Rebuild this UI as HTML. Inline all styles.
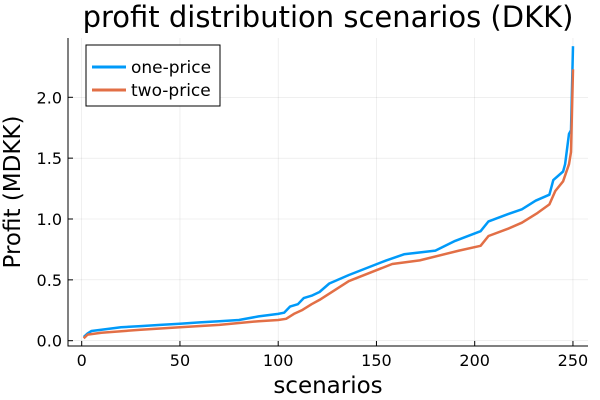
<!DOCTYPE html>
<html><head><meta charset="utf-8"><style>
body{margin:0;background:#fff}
svg{display:block;font-family:"DejaVu Sans","Liberation Sans",sans-serif}
</style></head><body>
<svg id="chart" width="600" height="400" viewBox="0 0 600 400">
<rect width="600" height="400" fill="#fff"/>
<g id="grid"></g><g id="axes"></g><g id="series"></g>
<text x="328" y="27" text-anchor="middle" font-size="29" fill="#000">profit distribution scenarios (DKK)</text>
<text x="328" y="393" text-anchor="middle" font-size="23" fill="#000">scenarios</text>
<text transform="translate(20,192) rotate(-90)" text-anchor="middle" font-size="23" fill="#000">Profit (MDKK)</text>
<g>
<rect x="86" y="45" width="134" height="61" fill="#fff" stroke="#000" stroke-width="1"/>
<line x1="92" y1="67" x2="126" y2="67" stroke="#009af9" stroke-width="3"/>
<text x="131" y="73" font-size="17">one-price</text>
<line x1="92" y1="90" x2="126" y2="90" stroke="#e26f46" stroke-width="3"/>
<text x="131" y="96" font-size="17">two-price</text>
</g>
</svg>
<script>
const xTicks=[0,50,100,150,200,250];
const yTicks=[0,0.5,1.0,1.5,2.0];
const yTickLabels=["0.0","0.5","1.0","1.5","2.0"];
const oneX=[1,3,5,10,20,30,40,50,60,70,80,90,100,103,106,110,113,117,121,126,136,155,164,180,190,203,207,217,224,231,238,240,245,246,248,249,250];
const oneY=[0.03,0.06,0.08,0.09,0.11,0.12,0.13,0.14,0.15,0.16,0.17,0.20,0.22,0.23,0.28,0.30,0.35,0.37,0.40,0.47,0.54,0.66,0.71,0.74,0.82,0.90,0.98,1.04,1.08,1.15,1.20,1.32,1.39,1.45,1.70,1.73,2.42];
const twoX=[1,3,10,30,50,70,90,100,104,108,112,117,121,136,158,172,192,203,207,217,224,232,238,241,245,248,249,250];
const twoY=[0.02,0.05,0.065,0.09,0.11,0.13,0.16,0.17,0.18,0.22,0.25,0.30,0.335,0.49,0.63,0.66,0.74,0.78,0.86,0.92,0.97,1.05,1.12,1.23,1.31,1.45,1.55,2.23];
const L=68,R=588,T=38,B=346;
const sx=v=>81.7+v*1.965;
const sy=v=>340.7-v*121.7;
const NS="http://www.w3.org/2000/svg";
function mk(tag,attrs,parent){const e=document.createElementNS(NS,tag);for(const k in attrs)e.setAttribute(k,attrs[k]);parent.appendChild(e);return e;}
const grid=document.getElementById('grid'),axes=document.getElementById('axes'),ser=document.getElementById('series');
xTicks.forEach(t=>{
  const g=mk('line',{x1:sx(t),x2:sx(t),y1:T,y2:B,stroke:'#000','stroke-opacity':0.1,'stroke-width':0.6},grid);
  
  
  mk('line',{x1:sx(t),x2:sx(t),y1:B,y2:B-5,stroke:'#000','stroke-width':1},axes);
  const tx=mk('text',{x:sx(t),y:B+20,'text-anchor':'middle','font-size':16},axes);
  tx.textContent=t;
  
  
});
yTicks.forEach((t,i)=>{
  const g=mk('line',{x1:L,x2:R,y1:sy(t),y2:sy(t),stroke:'#000','stroke-opacity':0.1,'stroke-width':0.6},grid);
  
  
  mk('line',{x1:L,x2:L+5,y1:sy(t),y2:sy(t),stroke:'#000','stroke-width':1},axes);
  const tx=mk('text',{x:L-6,y:sy(t)+6,'text-anchor':'end','font-size':16},axes);
  tx.textContent=yTickLabels[i];
  
  
});
const ax=mk('path',{d:`M${L},${T}V${B}H${R}`,fill:'none',stroke:'#000','stroke-width':1},axes);


function line(xs,ys,color,name){
  const d=xs.map((x,i)=>(i?'L':'M')+sx(x).toFixed(1)+','+sy(ys[i]).toFixed(1)).join('');
  const p=mk('path',{d:d,fill:'none',stroke:color,'stroke-width':2.5,'stroke-linejoin':'round'},ser);
  
  
}
line(oneX,oneY,'#009af9','one-price-line');
line(twoX,twoY,'#e26f46','two-price-line');
</script>
</body></html>
